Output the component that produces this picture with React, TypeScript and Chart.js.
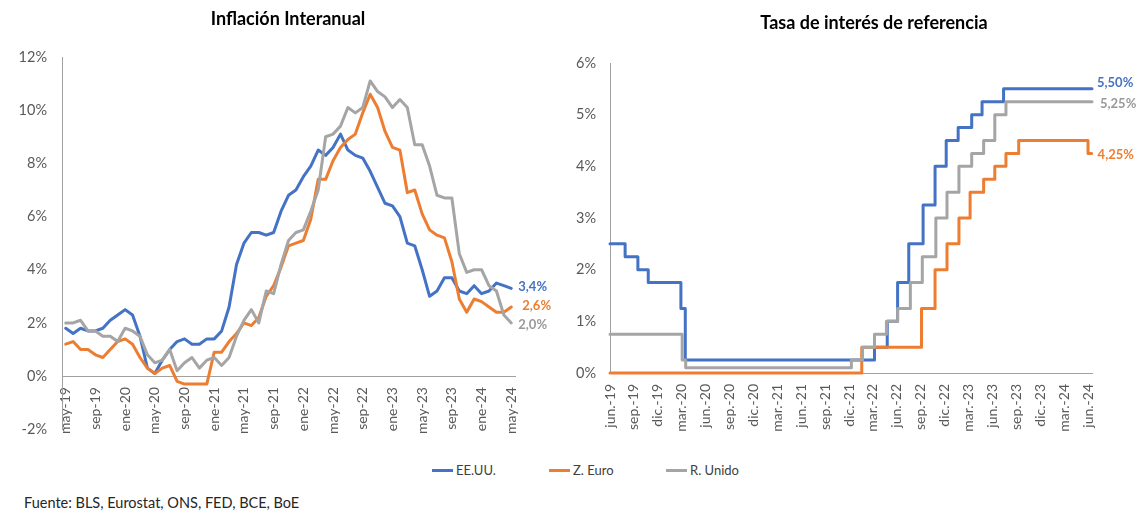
import React, { useEffect, useRef } from "react";
import { Chart, registerables } from "chart.js";

Chart.register(...registerables);

const FONT = "Lato, 'Open Sans', 'DejaVu Sans', sans-serif";
const BLUE = "#4472C4";
const ORANGE = "#ED7D31";
const GRAY = "#A5A5A5";
const AXIS = "#A0A0A0";
const TICK = "#595959";

// ---------- Inflation (monthly, may-19 .. may-24) ----------
const monthNamesEs = ["ene", "feb", "mar", "abr", "may", "jun", "jul", "ago", "sep", "oct", "nov", "dic"];
const inflationLabels: string[] = [];
for (let i = 0; i < 61; i++) {
  const m = (4 + i) % 12;
  const y = 19 + Math.floor((4 + i) / 12);
  inflationLabels.push(`${monthNamesEs[m]}-${y}`);
}

const usInflation = [
  1.8, 1.6, 1.8, 1.7, 1.7, 1.8, 2.1, 2.3,
  2.5, 2.3, 1.5, 0.3, 0.1, 0.6, 1.0, 1.3, 1.4, 1.2, 1.2, 1.4,
  1.4, 1.7, 2.6, 4.2, 5.0, 5.4, 5.4, 5.3, 5.4, 6.2, 6.8, 7.0,
  7.5, 7.9, 8.5, 8.3, 8.6, 9.1, 8.5, 8.3, 8.2, 7.7, 7.1, 6.5,
  6.4, 6.0, 5.0, 4.9, 4.0, 3.0, 3.2, 3.7, 3.7, 3.2, 3.1, 3.4,
  3.1, 3.2, 3.5, 3.4, 3.3,
];
const euroInflation = [
  1.2, 1.3, 1.0, 1.0, 0.8, 0.7, 1.0, 1.3,
  1.4, 1.2, 0.7, 0.3, 0.1, 0.3, 0.4, -0.2, -0.3, -0.3, -0.3, -0.3,
  0.9, 0.9, 1.3, 1.6, 2.0, 1.9, 2.2, 3.0, 3.4, 4.1, 4.9, 5.0,
  5.1, 5.9, 7.4, 7.4, 8.1, 8.6, 8.9, 9.1, 9.9, 10.6, 10.1, 9.2,
  8.6, 8.5, 6.9, 7.0, 6.1, 5.5, 5.3, 5.2, 4.3, 2.9, 2.4, 2.9,
  2.8, 2.6, 2.4, 2.4, 2.6,
];
const ukInflation = [
  2.0, 2.0, 2.1, 1.7, 1.7, 1.5, 1.5, 1.3,
  1.8, 1.7, 1.5, 0.8, 0.5, 0.6, 1.0, 0.2, 0.5, 0.7, 0.3, 0.6,
  0.7, 0.4, 0.7, 1.5, 2.1, 2.5, 2.0, 3.2, 3.1, 4.2, 5.1, 5.4,
  5.5, 6.2, 7.0, 9.0, 9.1, 9.4, 10.1, 9.9, 10.1, 11.1, 10.7, 10.5,
  10.1, 10.4, 10.1, 8.7, 8.7, 7.9, 6.8, 6.7, 6.7, 4.6, 3.9, 4.0,
  4.0, 3.4, 3.2, 2.3, 2.0,
];

// ---------- Policy rates (change points, months since jun-19) ----------
const rateTickLabels = [
  "jun.-19", "sep.-19", "dic.-19", "mar.-20", "jun.-20", "sep.-20", "dic.-20",
  "mar.-21", "jun.-21", "sep.-21", "dic.-21", "mar.-22", "jun.-22", "sep.-22",
  "dic.-22", "mar.-23", "jun.-23", "sep.-23", "dic.-23", "mar.-24", "jun.-24",
];

const fedMonths = [0, 1.9, 3.5, 4.8, 8.9, 9.45, 33.2, 34.8, 36.1, 37.5, 39.3, 40.8, 42.2, 43.7, 45.4, 46.7, 49.4, 60.5];
const fedRates = [2.5, 2.25, 2.0, 1.75, 1.25, 0.25, 0.5, 1.0, 1.75, 2.5, 3.25, 4.0, 4.5, 4.75, 5.0, 5.25, 5.5, 5.5];

const ecbMonths = [0, 31.6, 39.1, 40.8, 42.3, 43.8, 45.2, 46.9, 48.3, 49.7, 51.3, 60.0, 60.45];
const ecbRates = [0, 0.5, 1.25, 2.0, 2.5, 3.0, 3.5, 3.75, 4.0, 4.25, 4.5, 4.25, 4.25];

const boeMonths = [0, 9.06, 9.5, 30.3, 31.7, 33.2, 34.7, 36.1, 37.7, 39.2, 40.9, 42.3, 43.8, 45.4, 46.9, 48.3, 49.7, 60.5];
const boeRates = [0.75, 0.25, 0.1, 0.25, 0.5, 0.75, 1.0, 1.25, 1.75, 2.25, 3.0, 3.5, 4.0, 4.25, 4.5, 5.0, 5.25, 5.25];

const legendItems = [
  { label: "EE.UU.", color: BLUE },
  { label: "Z. Euro", color: ORANGE },
  { label: "R. Unido", color: GRAY },
];

const toPoints = (xs: number[], ys: number[]) => xs.map((x, i) => ({ x, y: ys[i] }));

const endLabelPlugin = {
  id: "endLabels",
  afterDatasetsDraw(chart: any) {
    const ctx = chart.ctx;
    chart.data.datasets.forEach((ds: any, i: number) => {
      if (!ds.endLabel) return;
      const meta = chart.getDatasetMeta(i);
      const pt = meta.data[meta.data.length - 1];
      if (!pt) return;
      ctx.save();
      ctx.font = `bold 13px ${FONT}`;
      ctx.fillStyle = ds.endLabelColor || ds.borderColor;
      ctx.textAlign = "left";
      ctx.textBaseline = "middle";
      ctx.fillText(ds.endLabel, pt.x + ds.endLabelDx, pt.y + ds.endLabelDy);
      ctx.restore();
    });
  },
};

const lineDefaults = {
  borderWidth: 3,
  tension: 0,
  borderJoinStyle: "round" as const,
  borderCapStyle: "round" as const,
  pointRadius: 0,
  clip: false as any,
};

function InflationChart() {
  const ref = useRef<HTMLCanvasElement>(null);
  useEffect(() => {
    const chart = new Chart(ref.current!, {
      type: "line",
      data: {
        labels: inflationLabels,
        datasets: [
          { ...lineDefaults, label: "R. Unido", data: ukInflation, borderColor: GRAY, order: 0, endLabel: "2,0%", endLabelDx: 7, endLabelDy: 2, endLabelColor: "#999999" } as any,
          { ...lineDefaults, label: "Z. Euro", data: euroInflation, borderColor: ORANGE, order: 1, endLabel: "2,6%", endLabelDx: 11, endLabelDy: -1 } as any,
          { ...lineDefaults, label: "EE.UU.", data: usInflation, borderColor: BLUE, order: 2, endLabel: "3,4%", endLabelDx: 7, endLabelDy: -2 } as any,
        ],
      },
      options: {
        responsive: false,
        animation: false,
        layout: { padding: { left: 0, top: 57, right: 45, bottom: 9 } },
        plugins: { legend: { display: false }, tooltip: { enabled: false }, title: { display: false } },
        scales: {
          x: {
            type: "category",
            position: { y: 0 } as any,
            offset: true,
            grid: { display: false, drawTicks: false },
            border: { display: true, color: AXIS, width: 1 },
            ticks: {
              autoSkip: false,
              maxRotation: 90,
              minRotation: 90,
              padding: 11,
              color: TICK,
              font: { family: FONT, size: 14 },
              callback: (_v: any, i: number) => (i % 4 === 0 ? inflationLabels[i] : ""),
            },
          },
          y: {
            min: -2,
            max: 12,
            grid: { display: false, drawTicks: false },
            border: { display: true, color: AXIS, width: 1 },
            ticks: {
              stepSize: 2,
              padding: 15,
              color: TICK,
              font: { family: FONT, size: 14.5 },
              callback: (v: any) => `${v}%`,
            },
            afterFit: (s: any) => {
              s.width = 62;
            },
          },
        },
      },
      plugins: [endLabelPlugin],
    });
    return () => chart.destroy();
  }, []);
  return <canvas ref={ref} width={560} height={453} style={{ position: "absolute", left: 0, top: 0, display: "block" }} />;
}

function RateChart() {
  const ref = useRef<HTMLCanvasElement>(null);
  useEffect(() => {
    const chart = new Chart(ref.current!, {
      type: "line",
      data: {
        datasets: [
          { ...lineDefaults, stepped: true, label: "R. Unido", data: toPoints(boeMonths, boeRates), borderColor: GRAY, order: 0, endLabel: "5,25%", endLabelDx: 8, endLabelDy: 2, endLabelColor: "#999999" } as any,
          { ...lineDefaults, stepped: true, label: "Z. Euro", data: toPoints(ecbMonths, ecbRates), borderColor: ORANGE, order: 1, endLabel: "4,25%", endLabelDx: 6, endLabelDy: 1 } as any,
          { ...lineDefaults, stepped: true, label: "EE.UU.", data: toPoints(fedMonths, fedRates), borderColor: BLUE, order: 2, endLabel: "5,50%", endLabelDx: 5, endLabelDy: -6 } as any,
        ],
      },
      options: {
        responsive: false,
        animation: false,
        layout: { padding: { left: 0, top: 63, right: 50, bottom: 72 } },
        plugins: { legend: { display: false }, tooltip: { enabled: false }, title: { display: false } },
        scales: {
          x: {
            type: "linear",
            min: 0,
            max: 60.5,
            position: { y: 0 } as any,
            grid: { display: false, drawTicks: false },
            border: { display: true, color: AXIS, width: 1 },
            afterBuildTicks: (s: any) => {
              s.ticks = rateTickLabels.map((_, i) => ({ value: i * 3 }));
            },
            ticks: {
              autoSkip: false,
              maxRotation: 90,
              minRotation: 90,
              padding: 11,
              color: TICK,
              font: { family: FONT, size: 14 },
              callback: (_v: any, i: number) => rateTickLabels[i] ?? "",
            },
          },
          y: {
            min: 0,
            max: 6,
            grid: { display: false, drawTicks: false },
            border: { display: true, color: AXIS, width: 1 },
            ticks: {
              stepSize: 1,
              padding: 14,
              color: TICK,
              font: { family: FONT, size: 14.5 },
              callback: (v: any) => `${v}%`,
            },
            afterFit: (s: any) => {
              s.width = 50;
            },
          },
        },
      },
      plugins: [endLabelPlugin],
    });
    return () => chart.destroy();
  }, []);
  return <canvas ref={ref} width={582} height={445} style={{ position: "absolute", left: 560, top: 0, display: "block" }} />;
}

export default function App() {
  return (
    <div style={{ position: "absolute", left: 0, top: 0, width: 1142, height: 513, background: "#fff", overflow: "hidden", fontFamily: FONT }}>
      <InflationChart />
      <RateChart />
      <div style={{ position: "absolute", left: 0, width: 576, top: 6, textAlign: "center", fontWeight: 700, fontSize: 18, lineHeight: "24px", color: "#000" }}>
        Inflación Interanual
      </div>
      <div style={{ position: "absolute", left: 674, width: 400, top: 10, textAlign: "center", fontWeight: 700, fontSize: 18, lineHeight: "24px", color: "#000" }}>
        Tasa de interés de referencia
      </div>
      <div style={{ position: "absolute", left: 432, top: 461, display: "flex", alignItems: "center" }}>
        {legendItems.map((it) => (
          <div key={it.label} style={{ width: 117, display: "flex", alignItems: "center" }}>
            <div style={{ width: 21, height: 3, background: it.color, marginRight: 3 }} />
            <span style={{ fontSize: 13, color: "#404040", lineHeight: "18px" }}>{it.label}</span>
          </div>
        ))}
      </div>
      <div style={{ position: "absolute", left: 24, top: 494, fontSize: 14.5, color: "#262626", lineHeight: "18px" }}>
        Fuente: BLS, Eurostat, ONS, FED, BCE, BoE
      </div>
    </div>
  );
}
